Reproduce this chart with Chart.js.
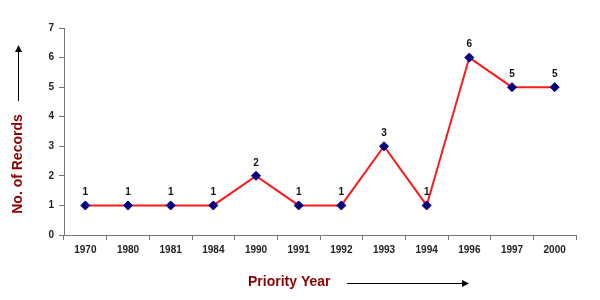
<!DOCTYPE html>
<html>
<head>
<meta charset="utf-8">
<script src="https://cdn.jsdelivr.net/npm/chart.js@4"></script>
<style>
  html, body { margin: 0; padding: 0; background: #fff; }
  #wrap { width: 600px; height: 300px; }
</style>
</head>
<body>
<div id="wrap"><canvas id="chart" width="600" height="300"></canvas></div>
<script>
const years = ['1970', '1980', '1981', '1984', '1990', '1991', '1992', '1993', '1994', '1996', '1997', '2000'];
const records = [1, 1, 1, 1, 2, 1, 1, 3, 1, 6, 5, 5];
const yTitle = 'No. of Records';
const xTitle = 'Priority Year';

const titleColor = '#8b0000';

// point value labels + axis titles with arrows
const decorPlugin = {
    id: 'decor',
    afterDatasetsDraw(chart) {
        const ctx = chart.ctx;
        const meta = chart.getDatasetMeta(0);
        ctx.save();
        ctx.font = 'bold 10px "Liberation Sans", Arial, sans-serif';
        ctx.fillStyle = '#111';
        ctx.textAlign = 'center';
        ctx.textBaseline = 'middle';
        meta.data.forEach(function (pt, i) {
            ctx.fillText(String(records[i]), pt.x, pt.y - 13);
        });

        // y title, rotated
        ctx.font = 'bold 14px "Liberation Sans", Arial, sans-serif';
        ctx.fillStyle = titleColor;
        ctx.translate(18, 164);
        ctx.rotate(-Math.PI / 2);
        ctx.textAlign = 'center';
        ctx.fillText(yTitle, 0, 0);
        ctx.setTransform(1, 0, 0, 1, 0, 0);

        // x title
        ctx.textAlign = 'left';
        ctx.fillText(xTitle, 248, 282);

        ctx.strokeStyle = '#000';
        ctx.fillStyle = '#000';
        ctx.lineWidth = 1;
        // y arrow
        ctx.beginPath();
        ctx.moveTo(18.5, 101);
        ctx.lineTo(18.5, 50);
        ctx.stroke();
        ctx.beginPath();
        ctx.moveTo(18.5, 45);
        ctx.lineTo(15, 52);
        ctx.lineTo(22, 52);
        ctx.closePath();
        ctx.fill();
        // x arrow
        ctx.beginPath();
        ctx.moveTo(347, 283.5);
        ctx.lineTo(462, 283.5);
        ctx.stroke();
        ctx.beginPath();
        ctx.moveTo(469, 283.5);
        ctx.lineTo(462, 280);
        ctx.lineTo(462, 287);
        ctx.closePath();
        ctx.fill();
        ctx.restore();
    }
};

const ctx = document.getElementById('chart').getContext('2d');
new Chart(ctx, {
    type: 'line',
    data: {
        labels: years,
        datasets: [{
            data: records,
            borderColor: '#ff1a1a',
            borderWidth: 2,
            pointStyle: 'rectRot',
            pointRadius: 4.5,
            pointHoverRadius: 4.5,
            pointBackgroundColor: '#00007f',
            pointBorderColor: '#00007f',
            pointBorderWidth: 1,
            tension: 0,
            fill: false
        }]
    },
    options: {
        responsive: false,
        animation: false,
        layout: { padding: { top: 28, right: 24, left: 0, bottom: 0 } },
        plugins: {
            legend: { display: false },
            tooltip: { enabled: false }
        },
        scales: {
            x: {
                type: 'category',
                offset: true,
                grid: {
                    offset: true,
                    drawOnChartArea: false,
                    drawTicks: true,
                    tickLength: 5,
                    color: '#777'
                },
                border: { color: '#777', width: 1 },
                ticks: {
                    color: '#222',
                    font: { family: '"Liberation Sans", Arial, sans-serif', size: 10, weight: 'bold' },
                    padding: 4,
                    maxRotation: 0,
                    autoSkip: false
                },
                afterFit(scale) { scale.height = 65; }
            },
            y: {
                min: 0,
                max: 7,
                grid: {
                    drawOnChartArea: false,
                    drawTicks: true,
                    tickLength: 5,
                    color: '#777'
                },
                border: { color: '#777', width: 1 },
                ticks: {
                    stepSize: 1,
                    color: '#222',
                    font: { family: '"Liberation Sans", Arial, sans-serif', size: 10, weight: 'bold' },
                    padding: 5
                },
                afterFit(scale) { scale.width = 64; }
            }
        }
    },
    plugins: [decorPlugin]
});
</script>
</body>
</html>
